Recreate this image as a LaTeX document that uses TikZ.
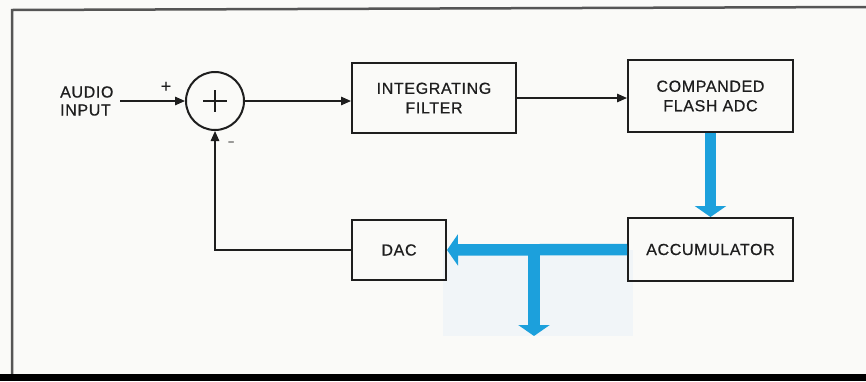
\documentclass[tikz,border=0pt]{standalone}
\usepackage{fontspec}
\setmainfont{Liberation Sans}[LetterSpace=4,FakeBold=0.6]
\usetikzlibrary{arrows.meta}
\definecolor{bg}{RGB}{250,250,248}
\definecolor{ink}{RGB}{30,30,30}
\definecolor{frame}{RGB}{85,85,85}
\definecolor{busblue}{RGB}{28,160,220}
\definecolor{patch}{RGB}{241,245,248}
\tikzset{
  blk/.style={draw=ink, line width=2pt, minimum width=#1, inner sep=0pt, align=center,
              font=\fontsize{16}{19.5}\selectfont, text=ink},
  wire/.style={draw=ink, line width=1.4pt},
  warrow/.style={wire, -{Triangle[length=10pt,width=8.5pt]}},
  bus/.style={draw=busblue, line width=11.5pt},
  busarrow/.style={bus, -{Triangle[length=11pt,width=31pt]}},
  lbl/.style={text=ink, font=\fontsize{16}{18}\selectfont, align=left, inner sep=0pt}
}
\begin{document}
\begin{tikzpicture}[x=1pt,y=-1pt]
\useasboundingbox (0,0) rectangle (866,381);
\fill[bg] (0,0) rectangle (866,381);
% frame
\draw[frame, line width=2.5pt] (866,7) -- (12,10) -- (12,376);
\fill[black] (0,374) rectangle (866,381);
% light patch under the output bus
\fill[patch] (443,250) rectangle (633,336);

% blocks
\node[blk=164pt, minimum height=70pt] (int) at (434,98) {INTEGRATING\\FILTER};
\node[blk=165pt, minimum height=72pt] (adc) at (710.5,96) {COMPANDED\\FLASH ADC};
\node[blk=165pt, minimum height=63pt] (acc) at (710.5,249.5) {ACCUMULATOR};
\node[blk=94pt, minimum height=60pt] (dac) at (399,250) {DAC};
\node[draw=ink, line width=2pt, circle, minimum size=58pt, inner sep=0pt] (sum) at (215,101) {};
\draw[ink, line width=1.3pt] (sum.center) ++(-12,0) -- ++(24,0);
\draw[ink, line width=1.3pt] (sum.center) ++(0,-11) -- ++(0,22);

% input label
\node[lbl, anchor=west] (in) at (60,101) {AUDIO\\INPUT};
\node[lbl, font=\fontsize{18}{18}\selectfont] (plus) at (166,87) {+};
\node[text=ink, inner sep=0pt, font=\fontsize{9}{9}\selectfont] (minus) at (231,143) {--};
\coordinate (inA) at (120,101);

% thin connectors
\draw[warrow] (inA) -- (sum.west);
\draw[warrow] (sum.east) -- (int.west |- sum.east);
\draw[warrow] (int.east) -- (adc.west |- int.east);
\draw[warrow] (dac.west) -- (dac.west -| sum.south) -- (sum.south);

% blue buses
\draw[busarrow] (adc.south) -- (acc.north);
\draw[busarrow] (acc.west) -- (dac.east);
\coordinate (tee) at (534,248);
\coordinate (out) at (534,336);
\draw[busarrow] (tee) -- (out);
\end{tikzpicture}
\end{document}
